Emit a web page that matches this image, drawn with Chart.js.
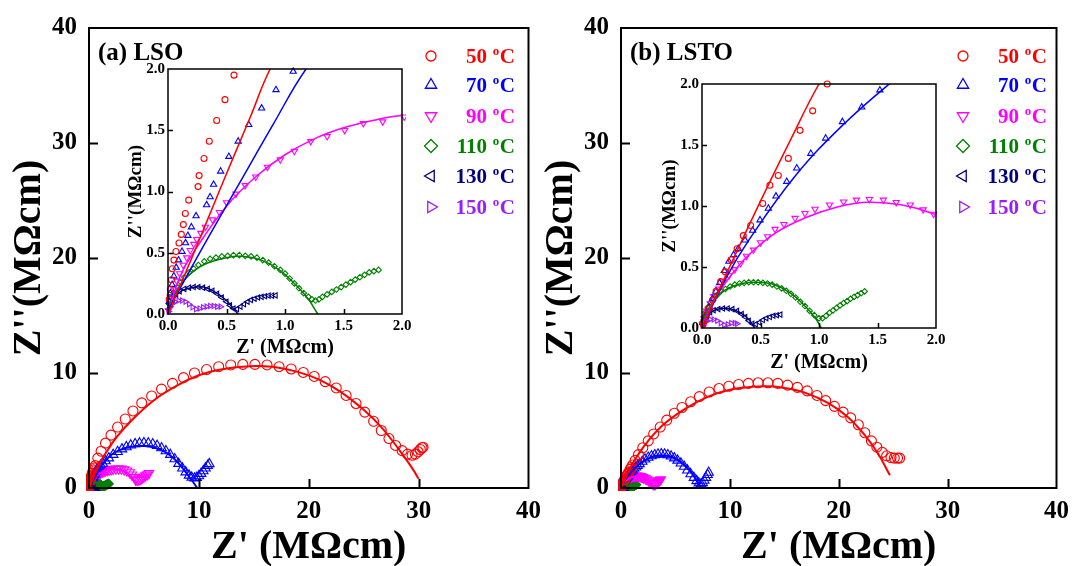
<!DOCTYPE html>
<html><head><meta charset="utf-8">
<script src="https://cdn.jsdelivr.net/npm/chart.js@4.4.1/dist/chart.umd.min.js"></script>
<style>
html,body{margin:0;padding:0;background:#fff;width:1078px;height:566px;overflow:hidden;}
canvas{position:absolute;}
</style></head><body>
<canvas id="mainA" width="550" height="566" style="left:0;top:0"></canvas>
<canvas id="mainB" width="546" height="566" style="left:532px;top:0"></canvas>
<canvas id="insetA" width="300" height="310" style="left:120px;top:55px"></canvas>
<canvas id="insetB" width="300" height="310" style="left:654px;top:70px"></canvas>
<script>
// ---------- categories / labels ----------
const temps = ['50', '70', '90', '110', '130', '150'];
const panelLabels = ['(a) LSO', '(b) LSTO'];
const mainTicks = [0, 10, 20, 30, 40];
const insetTicks = [0, 0.5, 1.0, 1.5, 2.0];
const xTitle = "Z' (MΩcm)";
const yTitle = "Z''(MΩcm)";

// ---------- LSO data (Z', Z'') in MΩcm ----------
const lso50 = [[0.01,0.12],[0.02,0.2],[0.03,0.28],[0.037,0.37],[0.051,0.44],[0.068,0.51],[0.094,0.58],[0.114,0.65],[0.131,0.73],[0.148,0.82],[0.177,0.93],[0.257,1.04],[0.266,1.13],[0.308,1.27],[0.353,1.41],[0.416,1.58],[0.487,1.75],[0.564,1.95],[0.8,2.6],[1.1,3.2],[1.5,3.9],[2.0,4.6],[2.6,5.3],[3.3,6.0],[4.0,6.7],[4.8,7.4],[5.7,8.0],[6.6,8.6],[7.6,9.1],[8.6,9.6],[9.6,10.0],[10.7,10.3],[11.8,10.55],[12.9,10.7],[14.0,10.75],[15.1,10.75],[16.2,10.7],[17.3,10.55],[18.4,10.35],[19.5,10.05],[20.5,9.7],[21.5,9.25],[22.5,8.7],[23.4,8.05],[24.3,7.35],[25.1,6.6],[25.9,5.8],[26.6,5.0],[27.3,4.3],[27.9,3.7],[28.5,3.25],[29.0,2.95],[29.4,2.85],[29.7,2.95],[29.95,3.15],[30.15,3.35],[30.3,3.5],[30.4,3.55]];
const lso70 = [[0.01,0.1],[0.02,0.17],[0.035,0.24],[0.05,0.31],[0.07,0.38],[0.09,0.44],[0.12,0.51],[0.15,0.58],[0.17,0.64],[0.2,0.71],[0.24,0.8],[0.33,0.89],[0.36,0.955],[0.39,1.057],[0.45,1.165],[0.52,1.285],[0.6,1.41],[0.69,1.545],[0.8,1.68],[0.923,1.83],[1.07,1.98],[1.25,2.13],[1.5,2.35],[1.8,2.6],[2.2,2.9],[2.6,3.15],[3.0,3.38],[3.4,3.57],[3.8,3.72],[4.2,3.83],[4.6,3.9],[5.0,3.92],[5.4,3.9],[5.8,3.82],[6.2,3.68],[6.6,3.48],[7.0,3.22],[7.4,2.9],[7.8,2.52],[8.15,2.12],[8.5,1.72],[8.8,1.38],[9.1,1.1],[9.35,0.92],[9.6,0.85],[9.8,0.9],[10.0,1.05],[10.2,1.25],[10.4,1.48],[10.6,1.72],[10.8,1.95],[10.95,2.1]];
const lso90 = [[0.005,0.03],[0.015,0.08],[0.03,0.14],[0.05,0.2],[0.075,0.27],[0.1,0.33],[0.13,0.4],[0.16,0.46],[0.19,0.52],[0.22,0.57],[0.245,0.61],[0.28,0.66],[0.32,0.71],[0.38,0.77],[0.44,0.83],[0.5,0.91],[0.58,0.98],[0.66,1.05],[0.75,1.12],[0.85,1.2],[0.96,1.26],[1.08,1.33],[1.22,1.41],[1.36,1.45],[1.51,1.5],[1.67,1.556],[1.835,1.57],[2.02,1.61],[2.2,1.64],[2.45,1.67],[2.7,1.68],[2.95,1.66],[3.2,1.6],[3.45,1.5],[3.7,1.35],[3.9,1.15],[4.1,0.95],[4.25,0.8],[4.4,0.7],[4.55,0.7],[4.7,0.78],[4.85,0.88],[5.0,0.98],[5.15,1.08],[5.3,1.18],[5.45,1.28]];
const lso110 = [[0.01,0.08],[0.03,0.13],[0.05,0.17],[0.08,0.22],[0.11,0.26],[0.14,0.3],[0.18,0.34],[0.22,0.37],[0.26,0.4],[0.31,0.43],[0.36,0.45],[0.41,0.46],[0.46,0.47],[0.51,0.475],[0.56,0.48],[0.61,0.48],[0.66,0.475],[0.71,0.47],[0.76,0.46],[0.81,0.44],[0.86,0.42],[0.91,0.39],[0.96,0.36],[1.0,0.33],[1.04,0.29],[1.08,0.25],[1.12,0.21],[1.16,0.17],[1.2,0.14],[1.23,0.12],[1.26,0.11],[1.29,0.12],[1.32,0.14],[1.36,0.16],[1.4,0.18],[1.44,0.2],[1.48,0.22],[1.52,0.24],[1.56,0.26],[1.6,0.28],[1.64,0.3],[1.68,0.32],[1.72,0.34],[1.76,0.35],[1.8,0.36]];
const lso130 = [[0.005,0.04],[0.02,0.08],[0.04,0.12],[0.07,0.16],[0.1,0.185],[0.14,0.205],[0.18,0.215],[0.22,0.22],[0.26,0.22],[0.3,0.215],[0.34,0.205],[0.38,0.19],[0.42,0.165],[0.46,0.135],[0.5,0.1],[0.53,0.07],[0.56,0.045],[0.59,0.04],[0.62,0.06],[0.65,0.08],[0.68,0.1],[0.71,0.115],[0.74,0.125],[0.77,0.135],[0.8,0.14],[0.83,0.145],[0.86,0.15],[0.89,0.15],[0.92,0.152]];
const lso150 = [[0.005,0.02],[0.02,0.06],[0.04,0.085],[0.06,0.1],[0.09,0.11],[0.12,0.11],[0.15,0.1],[0.18,0.08],[0.21,0.055],[0.24,0.04],[0.27,0.045],[0.3,0.055],[0.33,0.06],[0.36,0.065],[0.39,0.065],[0.42,0.06],[0.45,0.06]];
// LSO fits
const lso50Fit = [[0,0],[0.2,0.45],[0.45,1.03],[0.7,1.6],[0.9,2.05],[1.5,3.0],[2.5,4.4],[4,6.0],[6,7.7],[8,8.9],[10,9.8],[12,10.3],[14,10.55],[15.5,10.6],[17,10.5],[19,10.1],[21,9.4],[23,8.3],[25,6.8],[26.5,5.4],[27.7,4.0],[28.7,2.7],[29.5,1.6],[30,0.8]];
const lso70Fit = [[0,0.03],[0.3,0.55],[0.6,1.05],[0.9,1.55],[1.18,2.0],[1.6,2.5],[2.2,3.0],[3.0,3.38],[4.0,3.6],[5.0,3.65],[6.0,3.5],[7.0,3.1],[7.8,2.5],[8.5,1.75],[9.1,1.0],[9.6,0.35],[9.85,0]];
const lso90Fit = [[0,0],[0.1,0.3],[0.25,0.55],[0.5,0.88],[0.75,1.12],[1.0,1.3],[1.25,1.43],[1.5,1.52],[1.75,1.58],[2.0,1.62],[2.5,1.63],[3.0,1.52],[3.5,1.25],[4.0,0.75],[4.3,0.2]];
const lso110Fit = [[0,0.05],[0.05,0.15],[0.15,0.29],[0.3,0.4],[0.5,0.46],[0.65,0.47],[0.8,0.44],[0.95,0.36],[1.1,0.23],[1.2,0.12],[1.28,0]];
const lso130Fit = [[0,0.03],[0.05,0.13],[0.12,0.19],[0.2,0.215],[0.3,0.22],[0.4,0.18],[0.5,0.11],[0.57,0.03],[0.6,0]];

// ---------- LSTO data ----------
const lsto50 = [[0.01,0.03],[0.02,0.06],[0.04,0.11],[0.06,0.16],[0.09,0.23],[0.12,0.3],[0.16,0.38],[0.2,0.46],[0.25,0.56],[0.3,0.65],[0.353,0.757],[0.416,0.84],[0.519,1.02],[0.58,1.17],[0.652,1.25],[0.738,1.39],[0.838,1.62],[0.946,1.78],[1.07,2.0],[1.3,2.4],[1.6,2.9],[2.0,3.5],[2.5,4.1],[3.0,4.7],[3.6,5.3],[4.2,5.9],[4.9,6.5],[5.6,7.0],[6.4,7.5],[7.2,7.95],[8.1,8.35],[9.0,8.65],[9.9,8.85],[10.8,9.0],[11.7,9.1],[12.6,9.15],[13.5,9.15],[14.4,9.1],[15.3,8.95],[16.2,8.75],[17.1,8.45],[18.0,8.05],[18.8,7.6],[19.6,7.1],[20.4,6.6],[21.1,6.1],[21.8,5.5],[22.4,4.8],[23.0,4.1],[23.5,3.55],[24.0,3.1],[24.4,2.8],[24.8,2.65],[25.1,2.6],[25.4,2.6],[25.6,2.6]];
const lsto70 = [[0.01,0.05],[0.03,0.1],[0.06,0.17],[0.09,0.24],[0.12,0.3],[0.15,0.37],[0.19,0.47],[0.23,0.545],[0.27,0.6],[0.31,0.65],[0.368,0.72],[0.433,0.8],[0.496,0.885],[0.567,0.98],[0.632,1.08],[0.724,1.2],[0.81,1.31],[0.93,1.43],[1.057,1.555],[1.2,1.69],[1.365,1.81],[1.52,1.95],[1.7,2.1],[1.95,2.3],[2.2,2.5],[2.5,2.65],[2.8,2.78],[3.1,2.87],[3.4,2.93],[3.7,2.95],[4.0,2.93],[4.3,2.87],[4.6,2.76],[4.9,2.6],[5.2,2.4],[5.5,2.15],[5.8,1.87],[6.1,1.55],[6.4,1.22],[6.7,0.9],[6.95,0.62],[7.15,0.42],[7.35,0.35],[7.5,0.45],[7.65,0.65],[7.8,0.9],[7.95,1.15],[8.05,1.35]];
const lsto90 = [[0.005,0.03],[0.02,0.08],[0.04,0.14],[0.07,0.2],[0.1,0.26],[0.14,0.32],[0.18,0.38],[0.23,0.43],[0.28,0.48],[0.33,0.53],[0.38,0.59],[0.44,0.64],[0.5,0.7],[0.56,0.75],[0.624,0.81],[0.7,0.85],[0.795,0.9],[0.88,0.94],[0.966,0.975],[1.09,1.01],[1.21,1.035],[1.32,1.05],[1.43,1.055],[1.55,1.05],[1.66,1.03],[1.78,1.01],[1.89,0.97],[1.98,0.934],[2.1,0.88],[2.25,0.82],[2.4,0.74],[2.55,0.64],[2.7,0.53],[2.85,0.42],[2.95,0.34],[3.05,0.3],[3.15,0.34],[3.25,0.42],[3.35,0.5],[3.45,0.58],[3.55,0.66],[3.65,0.74]];
const lsto110 = [[0.005,0.05],[0.015,0.09],[0.03,0.13],[0.05,0.17],[0.075,0.21],[0.1,0.24],[0.13,0.27],[0.16,0.3],[0.2,0.32],[0.24,0.34],[0.28,0.355],[0.32,0.365],[0.36,0.37],[0.4,0.375],[0.44,0.375],[0.48,0.375],[0.52,0.37],[0.56,0.365],[0.6,0.355],[0.64,0.34],[0.68,0.325],[0.72,0.305],[0.76,0.28],[0.8,0.25],[0.84,0.215],[0.88,0.18],[0.92,0.14],[0.96,0.105],[1.0,0.08],[1.03,0.08],[1.06,0.1],[1.09,0.125],[1.12,0.145],[1.15,0.165],[1.18,0.185],[1.21,0.205],[1.24,0.22],[1.27,0.24],[1.3,0.255],[1.33,0.27],[1.36,0.285],[1.39,0.3]];
const lsto130 = [[0.005,0.03],[0.02,0.07],[0.04,0.1],[0.07,0.13],[0.1,0.145],[0.14,0.155],[0.18,0.16],[0.22,0.16],[0.26,0.155],[0.3,0.14],[0.34,0.115],[0.37,0.09],[0.4,0.06],[0.43,0.035],[0.46,0.03],[0.49,0.045],[0.52,0.065],[0.55,0.08],[0.58,0.09],[0.61,0.1],[0.64,0.105],[0.67,0.11]];
const lsto150 = [[0.005,0.02],[0.02,0.045],[0.04,0.06],[0.07,0.07],[0.1,0.07],[0.13,0.06],[0.16,0.04],[0.19,0.025],[0.22,0.03],[0.25,0.04],[0.28,0.04],[0.3,0.035]];
// LSTO fits
const lsto50Fit = [[0,0],[0.25,0.53],[0.5,1.04],[0.75,1.53],[1.0,2.0],[1.5,2.8],[2.5,4.1],[4,5.6],[6,6.95],[8,7.95],[10,8.55],[12,8.8],[13.5,8.85],[15,8.7],[17,8.25],[19,7.4],[20.8,6.2],[22.3,4.7],[23.6,3.0],[24.7,1.1]];
const lsto70Fit = [[0,0],[0.2,0.4],[0.4,0.72],[0.8,1.25],[1.2,1.66],[1.6,2.0],[2.0,2.3],[2.5,2.58],[3.0,2.76],[3.7,2.85],[4.4,2.78],[5.1,2.5],[5.8,2.0],[6.4,1.4],[6.9,0.75],[7.3,0.1]];
const lsto90Fit = [[0,0.02],[0.1,0.22],[0.2,0.37],[0.38,0.58],[0.63,0.78],[0.9,0.91],[1.15,0.99],[1.4,1.03],[1.7,1.01],[2.0,0.93],[2.3,0.79],[2.6,0.58],[2.85,0.32],[3.0,0.05]];
const lsto110Fit = [[0,0.02],[0.05,0.15],[0.15,0.28],[0.3,0.355],[0.45,0.375],[0.6,0.36],[0.75,0.29],[0.88,0.18],[0.97,0.08],[1.02,0]];
const lsto130Fit = [[0,0.02],[0.05,0.11],[0.12,0.15],[0.22,0.16],[0.32,0.13],[0.4,0.07],[0.45,0]];

// ---------- styles ----------
const colors = ['#ff0000', '#0000ff', '#ff00ff', '#008000', '#000080', '#9a1cff'];
const shapes = ['circle', 'up', 'down', 'diamond', 'left', 'right'];
const FONT = "'Liberation Serif','Times New Roman',serif";

const panels = [
  { data: [lso50, lso70, lso90, lso110, lso130, lso150], fits: [lso50Fit, lso70Fit, lso90Fit, lso110Fit, lso130Fit] },
  { data: [lsto50, lsto70, lsto90, lsto110, lsto130, lsto150], fits: [lsto50Fit, lsto70Fit, lsto90Fit, lsto110Fit, lsto130Fit] }
];

function toXY(arr) { return arr.map(p => ({ x: p[0], y: p[1] })); }
function styleOf(shape) {
  switch (shape) {
    case 'circle': return { pointStyle: 'circle', rotation: 0 };
    case 'up': return { pointStyle: 'triangle', rotation: 0 };
    case 'down': return { pointStyle: 'triangle', rotation: 180 };
    case 'diamond': return { pointStyle: 'rectRot', rotation: 0 };
    case 'left': return { pointStyle: 'triangle', rotation: 270 };
    case 'right': return { pointStyle: 'triangle', rotation: 90 };
  }
}

function buildDatasets(panel, radii, lineW, clipPx) {
  const ds = [];
  panel.fits.forEach((f, i) => {
    ds.push({ data: toXY(f), showLine: true, pointRadius: 0, borderColor: colors[i], borderWidth: lineW, tension: 0.4, fill: false, order: 0 });
  });
  panel.data.forEach((d, i) => {
    const st = styleOf(shapes[i]);
    ds.push({ data: toXY(d), showLine: false, pointStyle: st.pointStyle, rotation: st.rotation, pointRadius: radii[i],
      pointBorderColor: colors[i], pointBackgroundColor: 'rgba(0,0,0,0)', pointBorderWidth: 1.1, clip: clipPx, order: 1 });
  });
  return ds;
}

function framePlugin(len, lw) {
  return { id: 'frame' + len, afterDraw(chart) {
    const { ctx, chartArea: a, scales } = chart;
    ctx.save();
    ctx.strokeStyle = '#000'; ctx.lineWidth = lw;
    ctx.strokeRect(a.left, a.top, a.right - a.left, a.bottom - a.top);
    ctx.beginPath();
    scales.x.ticks.forEach(t => { const p = Math.round(scales.x.getPixelForValue(t.value)) + 0.5; if (p > a.left + 2 && p < a.right - 2) { ctx.moveTo(p, a.bottom); ctx.lineTo(p, a.bottom - len); } });
    scales.y.ticks.forEach(t => { const p = Math.round(scales.y.getPixelForValue(t.value)) + 0.5; if (p > a.top + 2 && p < a.bottom - 2) { ctx.moveTo(a.left, p); ctx.lineTo(a.left + len, p); } });
    ctx.stroke();
    ctx.restore();
  } };
}

function drawShape(ctx, shape, x, y, r) {
  ctx.beginPath();
  if (shape === 'circle') { ctx.arc(x, y, r, 0, Math.PI * 2); }
  else if (shape === 'diamond') { ctx.moveTo(x, y - r); ctx.lineTo(x + r, y); ctx.lineTo(x, y + r); ctx.lineTo(x - r, y); ctx.closePath(); }
  else {
    const ang = { up: -90, down: 90, left: 180, right: 0 }[shape] * Math.PI / 180;
    for (let k = 0; k < 3; k++) { const a = ang + k * 2 * Math.PI / 3; const px = x + r * Math.cos(a), py = y + r * Math.sin(a); if (k === 0) ctx.moveTo(px, py); else ctx.lineTo(px, py); }
    ctx.closePath();
  }
  ctx.stroke();
}

function legendPlugin(label) {
  const rows = [28, 57, 88, 118, 148, 179];
  return { id: 'legendP', afterDraw(chart) {
    const { ctx, chartArea: a } = chart;
    ctx.save();
    ctx.fillStyle = '#000'; ctx.font = 'bold 25px ' + FONT; ctx.textAlign = 'left'; ctx.textBaseline = 'alphabetic';
    ctx.fillText(label, a.left + 9, a.top + 32);
    temps.forEach((t, i) => {
      const cy = a.top + rows[i];
      ctx.strokeStyle = colors[i]; ctx.lineWidth = 1.3;
      const rr = shapes[i] === 'circle' ? 5 : 6.5;
      drawShape(ctx, shapes[i], a.left + 342, cy, rr);
      ctx.fillStyle = colors[i];
      const right = a.left + 426;
      const base = cy + 7;
      ctx.textAlign = 'right';
      ctx.font = 'bold 21px ' + FONT;
      ctx.fillText('C', right, base);
      const cw = ctx.measureText('C').width;
      ctx.font = 'bold 13px ' + FONT;
      ctx.fillText('o', right - cw - 0.5, base - 8);
      const ow = ctx.measureText('o').width;
      ctx.font = 'bold 21px ' + FONT;
      ctx.fillText(t + ' ', right - cw - ow - 1, base);
    });
    ctx.restore();
  } };
}

function mainChart(id, panel, label, padRight) {
  return new Chart(document.getElementById(id), {
    type: 'scatter',
    data: { datasets: buildDatasets(panel, [5, 5.5, 5.5, 4.5, 4.5, 4.5], 2, 3) },
    options: {
      responsive: false, animation: false, devicePixelRatio: 1, events: [],
      layout: { padding: { left: 0, top: 28, right: padRight, bottom: 0 } },
      plugins: { legend: { display: false }, tooltip: { enabled: false } },
      scales: {
        x: { type: 'linear', min: mainTicks[0], max: mainTicks[mainTicks.length - 1],
          afterBuildTicks: s => { s.ticks = mainTicks.map(v => ({ value: v })); },
          afterFit: s => { s.height = 78; },
          grid: { display: false, drawTicks: false }, border: { display: false },
          ticks: { color: '#000', padding: 9, font: { family: FONT, weight: 'bold', size: 25 }, maxRotation: 0 },
          title: { display: true, text: xTitle, color: '#000', font: { family: FONT, weight: 'bold', size: 40, lineHeight: 0.9 }, padding: { top: 0, bottom: 0 } } },
        y: { type: 'linear', min: mainTicks[0], max: mainTicks[mainTicks.length - 1],
          afterBuildTicks: s => { s.ticks = mainTicks.map(v => ({ value: v })); },
          afterFit: s => { s.width = 89; },
          grid: { display: false, drawTicks: false }, border: { display: false },
          ticks: { color: '#000', padding: 12, font: { family: FONT, weight: 'bold', size: 25 } },
          title: { display: true, text: yTitle, color: '#000', font: { family: FONT, weight: 'bold', size: 40, lineHeight: 1 }, padding: { top: 10, bottom: 0 } } }
      }
    },
    plugins: [framePlugin(9, 2), legendPlugin(label)]
  });
}

function insetChart(id, panel, xH) {
  return new Chart(document.getElementById(id), {
    type: 'scatter',
    data: { datasets: buildDatasets(panel, [3, 3.6, 3.6, 2.8, 3, 3], 1.5, 4) },
    options: {
      responsive: false, animation: false, devicePixelRatio: 1, events: [],
      layout: { padding: { left: 0, top: 14, right: 18, bottom: 0 } },
      plugins: { legend: { display: false }, tooltip: { enabled: false } },
      scales: {
        x: { type: 'linear', min: 0, max: 2,
          afterBuildTicks: s => { s.ticks = insetTicks.map(v => ({ value: v })); },
          afterFit: s => { s.height = xH; },
          grid: { display: false, drawTicks: false }, border: { display: false },
          ticks: { color: '#000', padding: 3, font: { family: FONT, weight: 'bold', size: 15 }, maxRotation: 0, callback: v => Number(v).toFixed(1) },
          title: { display: true, text: xTitle, color: '#000', font: { family: FONT, weight: 'bold', size: 20, lineHeight: 1 }, padding: { top: 0, bottom: 7 } } },
        y: { type: 'linear', min: 0, max: 2,
          afterBuildTicks: s => { s.ticks = insetTicks.map(v => ({ value: v })); },
          afterFit: s => { s.width = 48; },
          grid: { display: false, drawTicks: false }, border: { display: false },
          ticks: { color: '#000', padding: 3, font: { family: FONT, weight: 'bold', size: 15 }, callback: v => Number(v).toFixed(1) },
          title: { display: true, text: yTitle, color: '#000', font: { family: FONT, weight: 'bold', size: 19, lineHeight: 1 }, padding: { top: 7, bottom: 0 } } }
      }
    },
    plugins: [framePlugin(5, 1.5)]
  });
}

mainChart('mainA', panels[0], panelLabels[0], 21);
mainChart('mainB', panels[1], panelLabels[1], 17);
insetChart('insetA', panels[0], 51);
insetChart('insetB', panels[1], 52);
</script>
</body></html>
